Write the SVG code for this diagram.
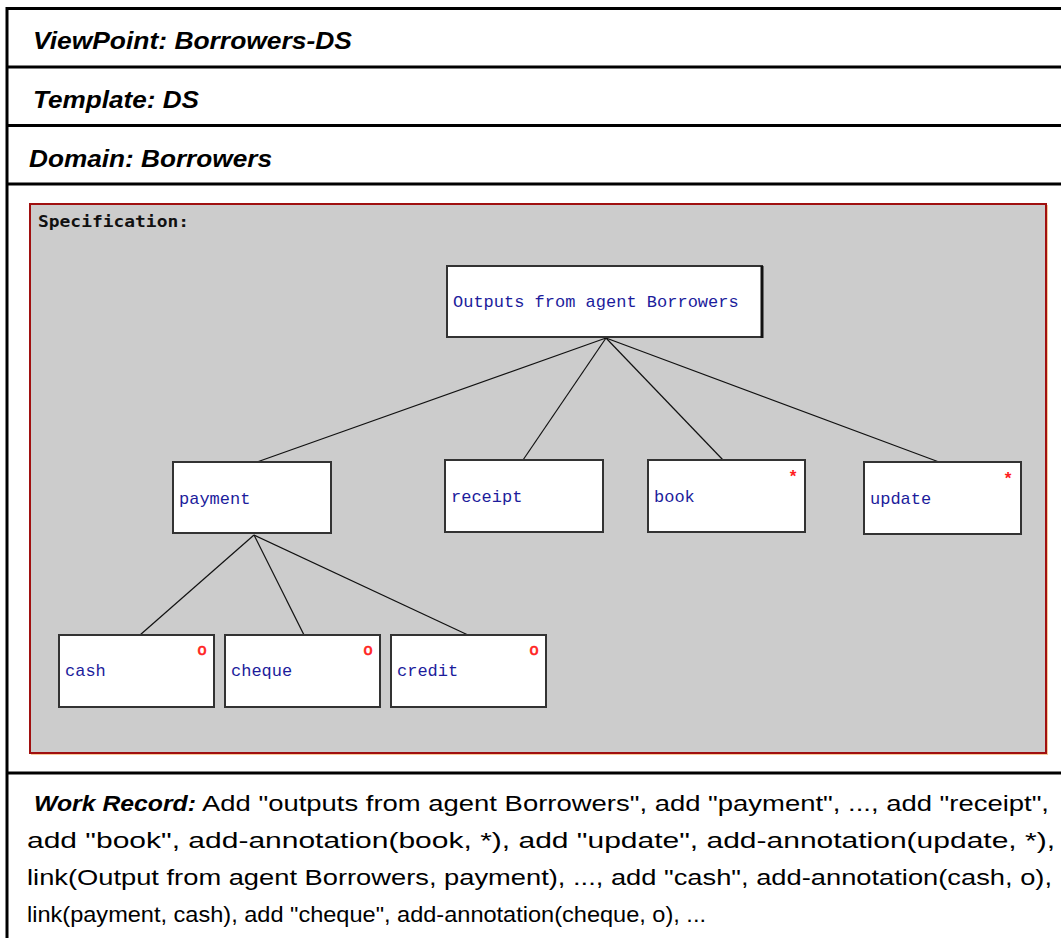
<svg xmlns="http://www.w3.org/2000/svg" width="1061" height="938" viewBox="0 0 1061 938">
<style>
.frame{stroke:#000;stroke-width:3;fill:none}
.hdr{font-family:"Liberation Sans",Arial,sans-serif;font-weight:bold;font-style:italic;font-size:23px;fill:#000}
.wr{font-family:"Liberation Sans",Arial,sans-serif;font-size:22px;fill:#000}
.wrb{font-family:"Liberation Sans",Arial,sans-serif;font-size:22px;font-weight:bold;font-style:italic;fill:#000}
.box{fill:#fff;stroke:#333;stroke-width:2}
.lbl{font-family:"Liberation Mono","Courier New",monospace;font-size:17px;fill:#1c1c9c}
.ann{font-family:"Liberation Mono","Courier New",monospace;font-size:17px;fill:#ff2020;font-weight:bold;text-anchor:middle}
.anno{font-family:"Liberation Mono","Courier New",monospace;font-size:16px;fill:#ff2020;stroke:#ff2020;stroke-width:0.7;font-weight:normal;text-anchor:middle}
.spec{font-family:"DejaVu Sans Mono",monospace;font-size:15px;font-weight:bold;fill:#111}
.edge{stroke:#111;stroke-width:1.2;fill:none}
</style>
<rect x="0" y="0" width="1061" height="938" fill="#fff"/>
<g id="frame">
<line class="frame" x1="7" y1="8.5" x2="1061" y2="8.5"/>
<line class="frame" x1="7" y1="7" x2="7" y2="938"/>
<line class="frame" x1="7" y1="67" x2="1061" y2="67"/>
<line class="frame" x1="7" y1="125.5" x2="1061" y2="125.5"/>
<line class="frame" x1="7" y1="184" x2="1061" y2="184"/>
<line class="frame" x1="7" y1="773" x2="1061" y2="773"/>
</g>
<g id="headers">
<text class="hdr" x="33" y="49" textLength="319" lengthAdjust="spacingAndGlyphs">ViewPoint: Borrowers-DS</text>
<text class="hdr" x="33" y="108" textLength="166" lengthAdjust="spacingAndGlyphs">Template: DS</text>
<text class="hdr" x="29" y="167" textLength="243" lengthAdjust="spacingAndGlyphs">Domain: Borrowers</text>
</g>
<g id="specification">
<rect x="31" y="205" width="1017" height="550" fill="#f8c898"/>
<rect x="30" y="204" width="1016" height="549" fill="#cccccc" stroke="#a01010" stroke-width="2"/>
<text class="spec" x="38" y="227" textLength="151" lengthAdjust="spacingAndGlyphs">Specification:</text>
</g>
<g id="connectors">
<line class="edge" x1="606" y1="338" x2="257" y2="462"/>
<line class="edge" x1="606" y1="338" x2="523" y2="460"/>
<line class="edge" x1="606" y1="338" x2="723" y2="460"/>
<line class="edge" x1="606" y1="338" x2="939" y2="462"/>
<line class="edge" x1="254" y1="535" x2="140" y2="635"/>
<line class="edge" x1="254" y1="535" x2="304" y2="635"/>
<line class="edge" x1="254" y1="535" x2="468" y2="635"/>
</g>
<g id="node-outputs">
<rect class="box" x="447" y="266" width="315" height="71"/>
<line x1="762" y1="266" x2="762" y2="338" stroke="#111" stroke-width="3"/>
<text class="lbl" x="453" y="307">Outputs from agent Borrowers</text>
</g>
<g id="node-payment">
<rect class="box" x="173" y="462" width="158" height="71"/>
<text class="lbl" x="179" y="504">payment</text>
</g>
<g id="node-receipt">
<rect class="box" x="445" y="460" width="158" height="72"/>
<text class="lbl" x="451" y="502">receipt</text>
</g>
<g id="node-book">
<rect class="box" x="648" y="460" width="157" height="72"/>
<text class="lbl" x="654" y="502">book</text>
<text class="ann" x="793" y="482">*</text>
</g>
<g id="node-update">
<rect class="box" x="864" y="462" width="157" height="72"/>
<text class="lbl" x="870" y="504">update</text>
<text class="ann" x="1008" y="484">*</text>
</g>
<g id="node-cash">
<rect class="box" x="59" y="635" width="155" height="72"/>
<text class="lbl" x="65" y="676">cash</text>
<text class="anno" x="202" y="655">o</text>
</g>
<g id="node-cheque">
<rect class="box" x="225" y="635" width="155" height="72"/>
<text class="lbl" x="231" y="676">cheque</text>
<text class="anno" x="368" y="655">o</text>
</g>
<g id="node-credit">
<rect class="box" x="391" y="635" width="155" height="72"/>
<text class="lbl" x="397" y="676">credit</text>
<text class="anno" x="534" y="655">o</text>
</g>
<g id="work-record">
<text class="wrb" x="34" y="811" textLength="162" lengthAdjust="spacingAndGlyphs">Work Record:</text>
<text class="wr" x="202" y="811" textLength="847" lengthAdjust="spacingAndGlyphs">Add "outputs from agent Borrowers", add "payment", ..., add "receipt",</text>
<text class="wr" x="27" y="848" textLength="1028" lengthAdjust="spacingAndGlyphs">add "book", add-annotation(book, *), add "update", add-annotation(update, *),</text>
<text class="wr" x="27" y="885" textLength="1025" lengthAdjust="spacingAndGlyphs">link(Output from agent Borrowers, payment), ..., add "cash", add-annotation(cash, o),</text>
<text class="wr" x="27" y="922" textLength="679" lengthAdjust="spacingAndGlyphs">link(payment, cash), add "cheque", add-annotation(cheque, o), ...</text>
</g>
</svg>
